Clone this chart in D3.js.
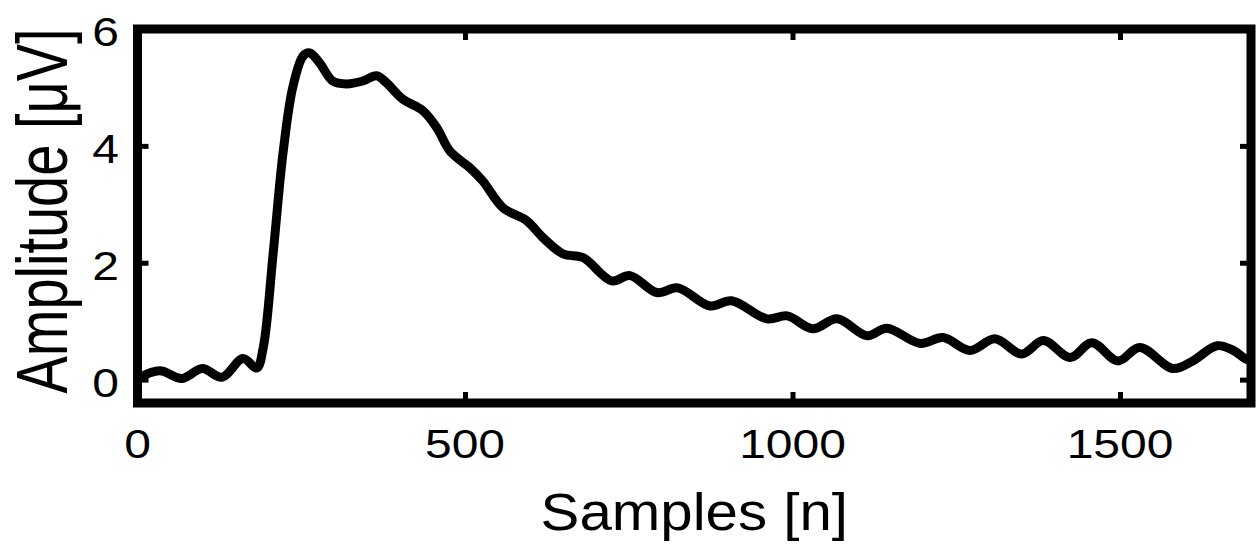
<!DOCTYPE html>
<html>
<head>
<meta charset="utf-8">
<script src="https://cdn.jsdelivr.net/npm/d3@7"></script>
<style>
  body { margin: 0; background: #fff; }
  text { font-family: "Liberation Sans", Arial, Helvetica, sans-serif; fill: #000; }
</style>
</head>
<body>
<div id="chart"></div>
<script>
// samples (n) and amplitude (uV)
const samples = [0, 34, 68, 99, 129, 161, 182, 192, 207, 222, 237, 253, 263, 278, 298, 319, 344, 365, 380,
  405, 436, 457, 477, 508, 527, 558, 594, 619, 650, 680, 724, 752, 793, 825, 874, 907, 961, 992, 1031,
  1068, 1114, 1144, 1195, 1230, 1271, 1309, 1350, 1383, 1424, 1457, 1497, 1530, 1581, 1611, 1648, 1673, 1691, 1700];
const amplitude = [0.02, 0.15, 0.02, 0.19, 0.04, 0.36, 0.2, 0.55, 2.15, 3.86, 5.0, 5.54, 5.59, 5.42, 5.11, 5.06, 5.11, 5.2, 5.08,
  4.8, 4.6, 4.31, 3.91, 3.62, 3.4, 2.94, 2.72, 2.43, 2.15, 2.09, 1.69, 1.78, 1.49, 1.57, 1.26, 1.35, 1.04, 1.09, 0.87,
  1.04, 0.75, 0.88, 0.62, 0.72, 0.5, 0.7, 0.44, 0.67, 0.38, 0.63, 0.32, 0.55, 0.19, 0.32, 0.58, 0.5, 0.36, 0.33];
const xTicks = [0, 500, 1000, 1500];
const yTicks = [0, 2, 4, 6];

const width = 1257, height = 550;
const plotLeft = 137.5, plotRight = 1251, plotTop = 29, plotBottom = 403;

const svg = d3.select('#chart').append('svg')
    .attr('width', width)
    .attr('height', height);

const x = d3.scaleLinear().domain([0, 1700]).range([plotLeft, plotRight]);
const y = d3.scaleLinear().domain([-0.4, 6]).range([plotBottom, plotTop]);

const data = samples.map((n, i) => ({n: n, v: amplitude[i]}));

//clip so the thick line stays inside the frame
svg.append('clipPath').attr('id', 'plotClip')
    .append('rect')
    .attr('x', plotLeft).attr('y', plotTop)
    .attr('width', plotRight - plotLeft).attr('height', plotBottom - plotTop);

const line = d3.line()
    .x(d => x(d.n))
    .y(d => y(d.v))
    .curve(d3.curveCatmullRom.alpha(0.5));

svg.append('path')
    .datum(data)
    .attr('clip-path', 'url(#plotClip)')
    .attr('d', line)
    .attr('fill', 'none')
    .attr('stroke', '#000')
    .attr('stroke-width', 9)
    .attr('stroke-linejoin', 'round')
    .attr('stroke-linecap', 'round');

//inward ticks on all four sides
function styleAxis(g) {
    g.select('.domain').remove();
    g.selectAll('.tick line').attr('stroke', '#000').attr('stroke-width', 5);
    g.selectAll('.tick text').remove();
}
svg.append('g').attr('transform', 'translate(0,' + plotBottom + ')')
    .call(d3.axisBottom(x).tickValues(xTicks).tickSize(-11).tickSizeOuter(0)).call(styleAxis);
svg.append('g').attr('transform', 'translate(0,' + plotTop + ')')
    .call(d3.axisTop(x).tickValues(xTicks).tickSize(-11).tickSizeOuter(0)).call(styleAxis);
svg.append('g').attr('transform', 'translate(' + plotLeft + ',0)')
    .call(d3.axisLeft(y).tickValues(yTicks).tickSize(-11).tickSizeOuter(0)).call(styleAxis);
svg.append('g').attr('transform', 'translate(' + plotRight + ',0)')
    .call(d3.axisRight(y).tickValues(yTicks).tickSize(-11).tickSizeOuter(0)).call(styleAxis);

// frame
svg.append('rect')
    .attr('x', plotLeft).attr('y', plotTop)
    .attr('width', plotRight - plotLeft).attr('height', plotBottom - plotTop)
    .attr('fill', 'none')
    .attr('stroke', '#000')
    .attr('stroke-width', 9);

// tick labels
svg.selectAll('text.xlab')
    .data(xTicks)
    .enter().append('text')
    .attr('class', 'xlab')
    .attr('text-anchor', 'middle')
    .attr('transform', d => 'translate(' + x(d) + ',458) scale(1.2,1)')
    .style('font-size', '40px')
    .text(d => d);

svg.selectAll('text.ylab')
    .data(yTicks)
    .enter().append('text')
    .attr('class', 'ylab')
    .attr('text-anchor', 'end')
    .attr('transform', d => 'translate(119,' + (y(d) + 17) + ') scale(1.2,1)')
    .style('font-size', '40px')
    .text(d => d);

// axis titles
svg.append('text')
    .attr('text-anchor', 'middle')
    .attr('transform', 'translate(' + ((plotLeft + plotRight) / 2) + ',530) scale(1.12,1)')
    .style('font-size', '52px')
    .text('Samples [n]');

svg.append('text')
    .attr('text-anchor', 'middle')
    .attr('transform', 'translate(67,211) scale(1.28,1) rotate(-90)')
    .style('font-size', '56px')
    .text('Amplitude [μV]');
</script>
</body>
</html>
